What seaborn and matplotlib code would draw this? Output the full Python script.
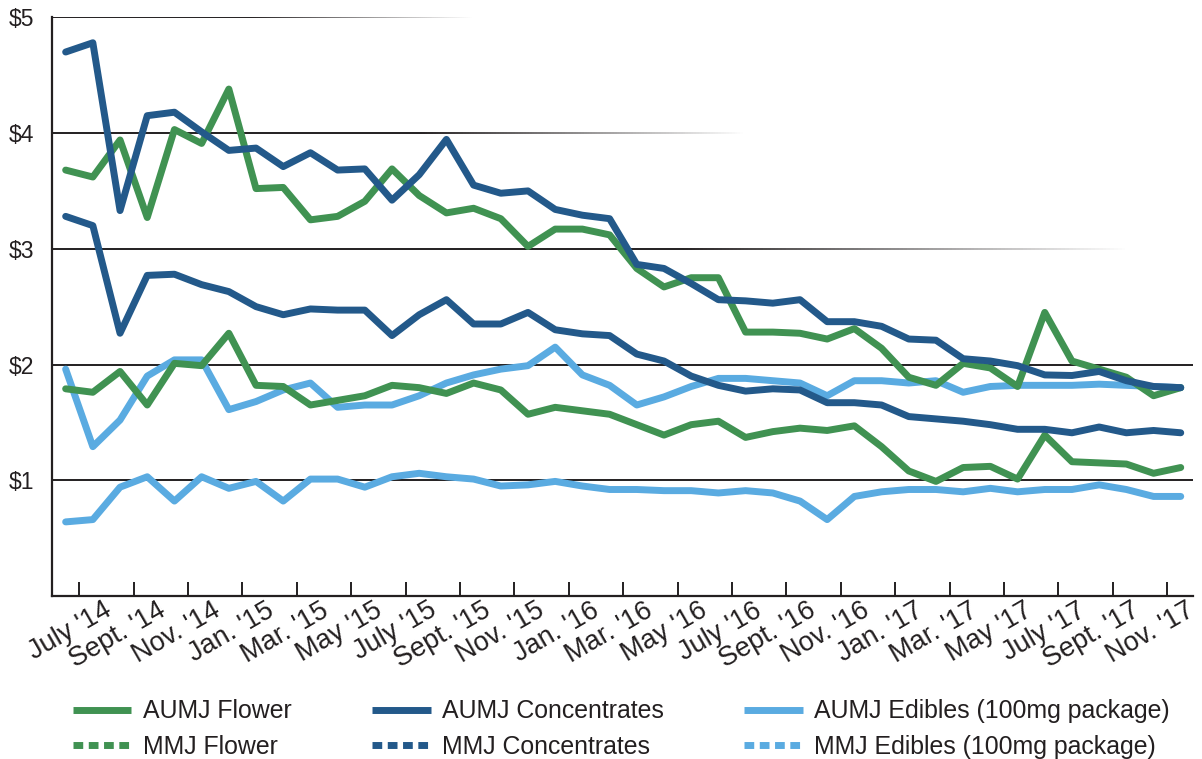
import numpy as np
import matplotlib
matplotlib.use('Agg')
import matplotlib.pyplot as plt
from matplotlib.collections import LineCollection
from matplotlib.lines import Line2D
from matplotlib.colors import to_rgb
import pandas as pd
import seaborn as sns

# month index 0 = July '14 ... 41 = Dec '17
tick_labels = ["July '14", "Sept. '14", "Nov. '14", "Jan. '15", "Mar. '15", "May '15",
               "July '15", "Sept. '15", "Nov. '15", "Jan. '16", "Mar. '16", "May '16",
               "July '16", "Sept. '16", "Nov. '16", "Jan. '17", "Mar. '17", "May '17",
               "July '17", "Sept. '17", "Nov. '17"]

aumj_flower = [3.68, 3.62, 3.94, 3.27, 4.03, 3.91, 4.38, 3.52, 3.53, 3.25, 3.28, 3.41, 3.69,
               3.46, 3.31, 3.35, 3.26, 3.02, 3.17, 3.17, 3.12, 2.83, 2.67, 2.75, 2.75, 2.28,
               2.28, 2.27, 2.22, 2.31, 2.14, 1.89, 1.82, 2.01, 1.97, 1.81, 2.45, 2.03, 1.96,
               1.89, 1.73, 1.80]
aumj_conc = [4.70, 4.78, 3.33, 4.15, 4.18, 4.01, 3.85, 3.87, 3.71, 3.83, 3.68, 3.69, 3.42,
             3.64, 3.945, 3.55, 3.48, 3.50, 3.34, 3.29, 3.26, 2.865, 2.83, 2.70, 2.56, 2.55,
             2.53, 2.56, 2.37, 2.37, 2.33, 2.22, 2.21, 2.05, 2.03, 1.99, 1.91, 1.905, 1.94,
             1.86, 1.81, 1.80]
aumj_edibles = [1.96, 1.29, 1.52, 1.90, 2.04, 2.04, 1.61, 1.68, 1.78, 1.84, 1.63, 1.65, 1.65,
                1.73, 1.84, 1.91, 1.96, 1.99, 2.15, 1.91, 1.82, 1.65, 1.72, 1.81, 1.88, 1.88,
                1.86, 1.84, 1.73, 1.86, 1.86, 1.84, 1.86, 1.76, 1.81, 1.82, 1.82, 1.82, 1.83,
                1.82, 1.81, 1.80]
mmj_flower = [1.79, 1.76, 1.94, 1.65, 2.01, 1.99, 2.27, 1.82, 1.81, 1.65, 1.69, 1.73, 1.82,
              1.80, 1.75, 1.84, 1.78, 1.57, 1.63, 1.60, 1.57, 1.48, 1.39, 1.48, 1.51, 1.37,
              1.42, 1.45, 1.43, 1.47, 1.29, 1.08, 0.99, 1.11, 1.12, 1.01, 1.39, 1.16, 1.15,
              1.14, 1.06, 1.11]
mmj_conc = [3.28, 3.20, 2.27, 2.77, 2.78, 2.69, 2.63, 2.50, 2.43, 2.48, 2.47, 2.47, 2.25,
            2.43, 2.56, 2.35, 2.35, 2.45, 2.30, 2.265, 2.25, 2.09, 2.03, 1.90, 1.82, 1.77,
            1.79, 1.78, 1.67, 1.67, 1.65, 1.55, 1.53, 1.51, 1.48, 1.44, 1.44, 1.41, 1.46,
            1.41, 1.43, 1.41]
mmj_edibles = [0.64, 0.66, 0.94, 1.03, 0.82, 1.03, 0.93, 0.99, 0.82, 1.01, 1.01, 0.94, 1.03,
               1.06, 1.03, 1.01, 0.95, 0.96, 0.99, 0.95, 0.92, 0.92, 0.91, 0.91, 0.89, 0.91,
               0.89, 0.82, 0.66, 0.86, 0.90, 0.92, 0.92, 0.90, 0.93, 0.90, 0.92, 0.92, 0.96,
               0.92, 0.86, 0.86]

GREEN = '#409252'
DBLUE = '#23598a'
LBLUE = '#5aabe1'
INK = '#231f20'

series = {
    'AUMJ Edibles (100mg package)': aumj_edibles,
    'MMJ Edibles (100mg package)': mmj_edibles,
    'AUMJ Flower': aumj_flower,
    'MMJ Flower': mmj_flower,
    'AUMJ Concentrates': aumj_conc,
    'MMJ Concentrates': mmj_conc,
}
palette = {
    'AUMJ Edibles (100mg package)': LBLUE, 'MMJ Edibles (100mg package)': LBLUE,
    'AUMJ Flower': GREEN, 'MMJ Flower': GREEN,
    'AUMJ Concentrates': DBLUE, 'MMJ Concentrates': DBLUE,
}

df = pd.DataFrame(series)
df['month'] = np.arange(len(df))
long_df = df.melt(id_vars='month', var_name='series', value_name='price')

sns.set_theme(style='white')
plt.rcParams['font.family'] = ['Liberation Sans', 'DejaVu Sans']
plt.rcParams['text.color'] = INK

fig = plt.figure(figsize=(12.02, 7.59), dpi=100)
ax = fig.add_axes([0.0433, 0.2148, 0.9492, 0.7624])

sns.lineplot(data=long_df, x='month', y='price', hue='series', hue_order=list(series),
             palette=palette, linewidth=5, legend=False, errorbar=None, ax=ax,
             solid_capstyle='round', solid_joinstyle='round', zorder=3)

ax.set_xlim(-0.5, 41.45)
ax.set_ylim(0, 5)


def fade_line(y, x_fade, x_end, lw=1.4):
    # solid from the axis, then fades out to the right
    ax.plot([-0.5, x_fade], [y, y], color=INK, lw=lw, solid_capstyle='butt', zorder=1)
    xs = np.linspace(x_fade, x_end, 120)
    segs = [[(xs[i], y), (xs[i + 1], y)] for i in range(len(xs) - 1)]
    r, g, b = to_rgb(INK)
    cols = [(r, g, b, a) for a in np.linspace(1, 0, len(segs))]
    ax.add_collection(LineCollection(segs, colors=cols, linewidths=lw, zorder=1))


fade_line(5, 6.8, 15.0)
fade_line(4, 13.0, 25.0)
fade_line(3, 22.6, 39.1)
for yv in [1, 2]:
    ax.plot([-0.5, 41.45], [yv, yv], color=INK, lw=1.4, zorder=1)

ax.set_yticks([1, 2, 3, 4, 5])
ax.set_yticklabels(['$1', '$2', '$3', '$4', '$5'])
ax.tick_params(axis='y', length=0, pad=13, labelsize=16.5, labelcolor=INK)

# labels sit a little right of every second month, ticks fall between months
ax.set_xticks(1.38 + 1.99 * np.arange(len(tick_labels)))
ax.set_xticklabels(tick_labels, rotation=30, ha='right', rotation_mode='anchor', va='top')
ax.set_xticks(np.arange(0.5, 41, 2), minor=True)
ax.tick_params(axis='x', which='major', length=0, pad=1, labelsize=19.5, labelcolor=INK)
ax.tick_params(axis='x', which='minor', direction='in', length=10, width=1.4, color=INK,
               bottom=True)
ax.set_xlabel('')
ax.set_ylabel('')

for s in ['top', 'right']:
    ax.spines[s].set_visible(False)
for s in ['left', 'bottom']:
    ax.spines[s].set_color(INK)
    ax.spines[s].set_linewidth(1.6)

handles = []
for name in ['AUMJ Flower', 'MMJ Flower', 'AUMJ Concentrates', 'MMJ Concentrates',
             'AUMJ Edibles (100mg package)', 'MMJ Edibles (100mg package)']:
    dashed = name.startswith('MMJ')
    handles.append(Line2D([], [], color=palette[name], lw=5,
                          linestyle=(0, (1.4, 0.8)) if dashed else '-',
                          dash_capstyle='butt', solid_capstyle='butt', label=name))

fig.legend(handles=handles, ncol=3, loc='upper left', bbox_to_anchor=(0.0607, 0.0785),
           frameon=False, fontsize=17.9, handlelength=2.35, handletextpad=0.45,
           columnspacing=3.25, labelspacing=0.47, borderaxespad=0, borderpad=0)

fig.savefig('out.png', dpi=100)
